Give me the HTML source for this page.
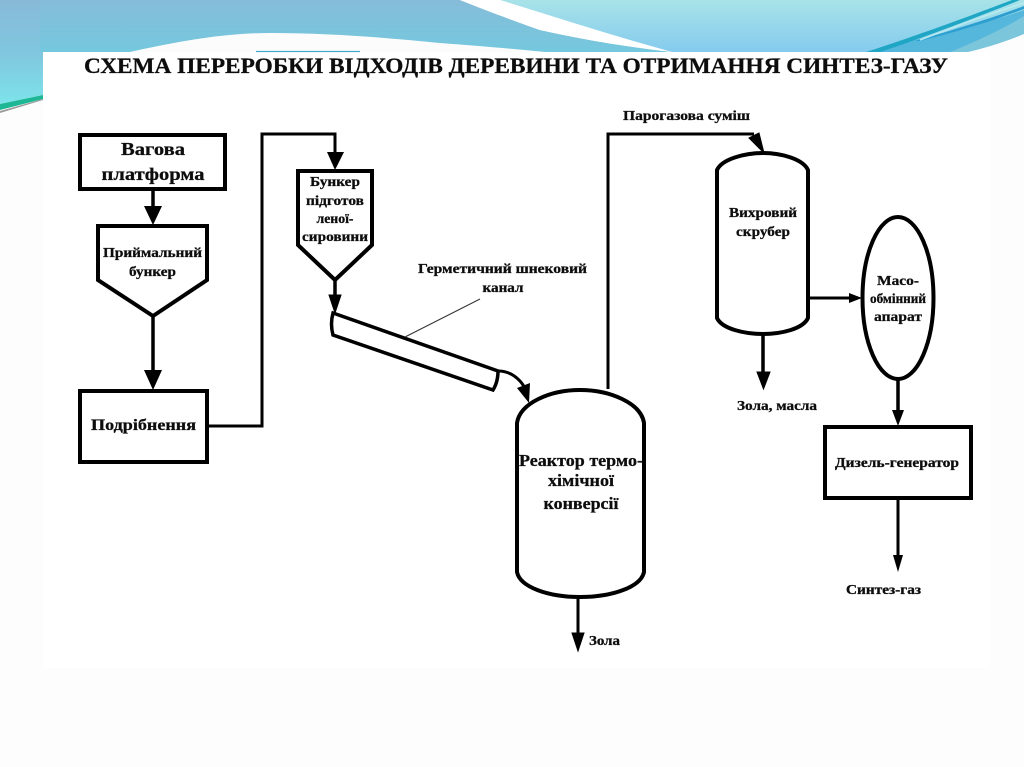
<!DOCTYPE html>
<html><head><meta charset="utf-8"><style>
html,body{margin:0;padding:0;background:#fff;width:1024px;height:767px;overflow:hidden}
svg{display:block}
text{font-family:"Liberation Serif",serif;font-weight:bold;fill:#111;stroke:#111;stroke-width:.3}
.l{stroke:#000;stroke-width:3.5;fill:none;stroke-linejoin:miter}
.t{stroke:#000;stroke-width:3;fill:none}
.s{fill:#fff;stroke:#000;stroke-width:4}
</style></head><body>
<svg width="1024" height="767" viewBox="0 0 1024 767" xmlns="http://www.w3.org/2000/svg">
<defs>
<linearGradient id="a" x1="0" y1="0" x2="0" y2="1"><stop offset="0" stop-color="#88bad8"/><stop offset=".5" stop-color="#80c6de"/><stop offset="1" stop-color="#7de3ea"/></linearGradient>
<linearGradient id="c" gradientUnits="userSpaceOnUse" x1="0" y1="0" x2="0" y2="52"><stop offset="0" stop-color="#86bcd9"/><stop offset="1" stop-color="#74c8de"/></linearGradient>
<linearGradient id="b" x1="0" y1="0" x2="0" y2="1"><stop offset="0" stop-color="#a8e3e8"/><stop offset="1" stop-color="#85cbee"/></linearGradient>
<filter id="f" x="-5%" y="-5%" width="110%" height="110%"><feGaussianBlur stdDeviation="0.35"/></filter>
</defs>
<rect width="1024" height="767" fill="#fdfdfd"/>
<!-- left column of the band -->
<path d="M0 0H60V52H43V95L0 104Z" fill="url(#a)"/>
<!-- main blue area to the left of the white stripe -->
<path d="M40 0H460C490 12 520 23 540 30C575 38 620 46 672 52H40Z" fill="url(#c)"/>
<!-- white arc -->
<path d="M130 52C180 41 225 33 270 33C330 33 390 38 440 43C480 46 515 49 545 52Z" fill="#fcfcfc"/>
<!-- light region -->
<path d="M500 0H1024V52H672C610 35 555 17 500 0Z" fill="url(#b)"/>
<!-- white stripe -->
<path d="M460 0H500C555 17 610 35 672 52C620 46 575 38 540 30C520 23 490 12 460 0Z" fill="#fff"/>
<!-- right streaks -->
<path d="M866 52C930 36 985 24 1024 10V34C1005 42 985 48 968 52Z" fill="#55b7dc"/>
<path d="M1024 16V34C1005 42 985 48 968 52H950C975 42 1005 28 1024 16Z" fill="#7cc6dc"/>
<path d="M866 52C925 33 975 14 1012 0H1020C975 18 925 37 880 52Z" fill="#1fa6c4"/>
<path d="M915 41C960 28 995 17 1024 6V9C995 20 960 31 920 41Z" fill="#2c9fd0"/>
<path d="M920 40C960 25 985 15 1024 3" stroke="#b8ebef" stroke-width="1.500" fill="none"/>
<path d="M968 52H1024V34C1005 42 985 48 968 52Z" fill="#fdfdfd"/>
<!-- left streak -->
<path d="M0 104L43 95V99L0 110Z" fill="#1eb795"/>
<path d="M0 111L43 99V100L0 113Z" fill="#9a9a9a"/>
<rect x="43" y="52" width="947" height="616" fill="#fff"/>
<path d="M256 51.500H360" stroke="#45a8cc" stroke-width="1.200"/>

<g filter="url(#f)">
<text x="84" y="73" font-size="22" textLength="864" lengthAdjust="spacingAndGlyphs">СХЕМА ПЕРЕРОБКИ ВІДХОДІВ ДЕРЕВИНИ ТА ОТРИМАННЯ СИНТЕЗ-ГАЗУ</text>

<rect class="s" x="80" y="135" width="145" height="54"/>
<path class="l" d="M153 189V210"/><path d="M144 206H162L153 225Z"/>
<path class="s" d="M98 226H207V280L153 316L98 280Z"/>
<path class="l" d="M153 316V374"/><path d="M144 370H162L153 390Z"/>
<rect class="s" x="80" y="391" width="127" height="71"/>
<path class="t" d="M207 426H262V134H335V156"/><path d="M327 152H344L335 170Z"/>

<path class="s" d="M298 171H372V245L335 280L298 245Z"/>
<path class="l" d="M335 280V298"/><path d="M329 295H341L335 313Z" stroke="#000"/>

<path d="M333 313L498 371Q498 382 493 390L333 335Q330 324 333 313Z" fill="#fff" stroke="#000" stroke-width="3.500"/>
<path d="M405 337L480 299" stroke="#333" stroke-width="1" fill="none"/>
<path class="t" d="M498 371C510 371 520 378 526 390"/><path d="M517 388L530 383L529 403Z"/>

<path class="s" d="M517 423C520 403 550 390 580 390C610 390 641 403 644 423V572C641 587 612 597 580 597C548 597 520 587 517 572Z"/>
<path class="t" d="M608 389V134H754"/><path d="M749 138L759 133L764 153Z" stroke="#000"/>
<path class="t" d="M578 597V636"/><path d="M572 633H584L578 651Z" stroke="#000"/>

<path class="s" d="M717 170C722 159 745 153 763 153C781 153 803 159 808 170V318C803 329 781 334 763 334C745 334 722 329 717 318Z"/>
<path class="l" d="M763 334V375"/><path d="M757 372H770L763.500 389Z" stroke="#000"/>
<path class="t" d="M808 298H852"/><path d="M849 293L862 298L849 303Z"/>

<ellipse class="s" cx="898" cy="298" rx="35.500" ry="81" stroke-width="3.500"/>
<path class="l" d="M898 379V413"/><path d="M892 410H904L898 426Z"/>
<rect class="s" x="825" y="427" width="146" height="71"/>
<path class="t" d="M898 498V558"/><path d="M893 555H903L898 572Z"/>

<text x="153" y="155" font-size="18" text-anchor="middle" textLength="64" lengthAdjust="spacingAndGlyphs">Вагова</text>
<text x="153" y="180" font-size="18" text-anchor="middle" textLength="103" lengthAdjust="spacingAndGlyphs">платформа</text>
<text x="152.500" y="257" font-size="14" text-anchor="middle" textLength="99" lengthAdjust="spacingAndGlyphs">Приймальний</text>
<text x="152.500" y="276" font-size="14" text-anchor="middle" textLength="47" lengthAdjust="spacingAndGlyphs">бункер</text>
<text x="143.500" y="430" font-size="15.500" text-anchor="middle" textLength="105" lengthAdjust="spacingAndGlyphs">Подрібнення</text>
<text x="335" y="186" font-size="14" text-anchor="middle" textLength="50" lengthAdjust="spacingAndGlyphs">Бункер</text>
<text x="335" y="205" font-size="14" text-anchor="middle" textLength="58" lengthAdjust="spacingAndGlyphs">підготов</text>
<text x="335" y="223" font-size="14" text-anchor="middle" textLength="37" lengthAdjust="spacingAndGlyphs">леної-</text>
<text x="335" y="241" font-size="14" text-anchor="middle" textLength="66" lengthAdjust="spacingAndGlyphs">сировини</text>
<text x="418" y="273" font-size="13.500" textLength="169" lengthAdjust="spacingAndGlyphs">Герметичний шнековий</text>
<text x="503" y="292" font-size="13.500" text-anchor="middle" textLength="41" lengthAdjust="spacingAndGlyphs">канал</text>
<text x="623" y="120" font-size="13.500" textLength="127" lengthAdjust="spacingAndGlyphs">Парогазова суміш</text>
<text x="519" y="466" font-size="17" textLength="124" lengthAdjust="spacingAndGlyphs">Реактор термо-</text>
<text x="581" y="486" font-size="17" text-anchor="middle" textLength="66" lengthAdjust="spacingAndGlyphs">хімічної</text>
<text x="581" y="509" font-size="17" text-anchor="middle" textLength="75" lengthAdjust="spacingAndGlyphs">конверсії</text>
<text x="763" y="217" font-size="14" text-anchor="middle" textLength="68" lengthAdjust="spacingAndGlyphs">Вихровий</text>
<text x="763" y="236" font-size="14" text-anchor="middle" textLength="54" lengthAdjust="spacingAndGlyphs">скрубер</text>
<text x="898" y="285" font-size="14" text-anchor="middle" textLength="42" lengthAdjust="spacingAndGlyphs">Масо-</text>
<text x="898" y="303" font-size="14" text-anchor="middle" textLength="56" lengthAdjust="spacingAndGlyphs">обмінний</text>
<text x="898" y="321" font-size="14" text-anchor="middle" textLength="48" lengthAdjust="spacingAndGlyphs">апарат</text>
<text x="737" y="410" font-size="13.500" textLength="80" lengthAdjust="spacingAndGlyphs">Зола, масла</text>
<text x="835" y="467" font-size="13.500" textLength="124" lengthAdjust="spacingAndGlyphs">Дизель-генератор</text>
<text x="846" y="594" font-size="13.500" textLength="75" lengthAdjust="spacingAndGlyphs">Синтез-газ</text>
<text x="589" y="645" font-size="13.500" textLength="31" lengthAdjust="spacingAndGlyphs">Зола</text>
</g>
</svg>
</body></html>
